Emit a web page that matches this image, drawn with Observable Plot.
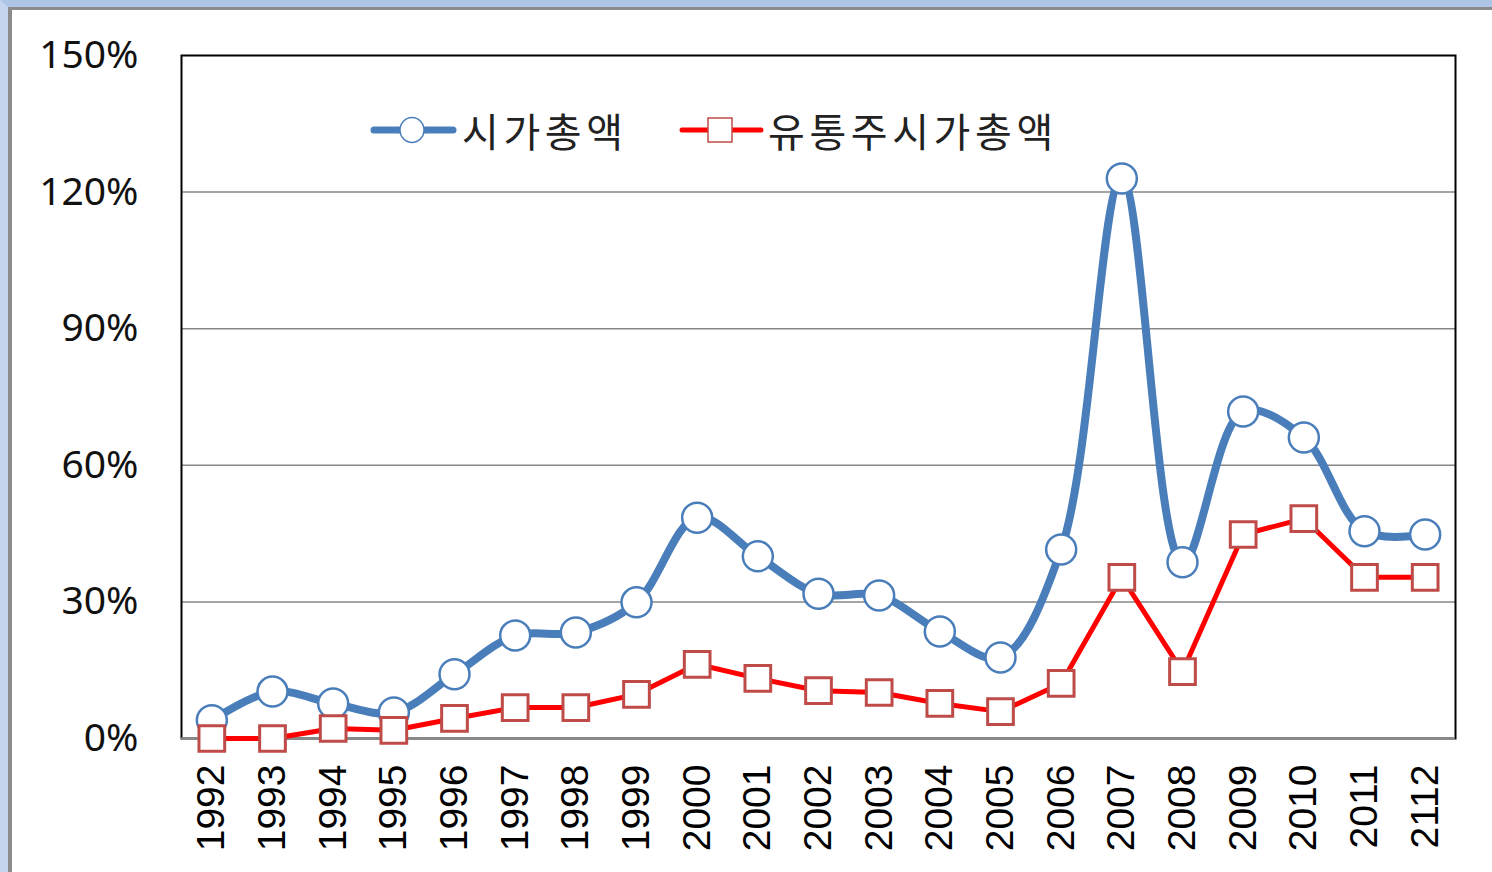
<!DOCTYPE html>
<html>
<head>
<meta charset="utf-8">
<script src="https://cdn.jsdelivr.net/npm/d3@7"></script>
<script src="https://cdn.jsdelivr.net/npm/@observablehq/plot@0.6"></script>
<style>
  html, body { margin: 0; padding: 0; }
  #outer { position: absolute; left: 0; top: 0; width: 1484px; height: 865px;
           border-top: 7px solid #afc5e8; border-left: 8px solid #c6d5ee; background: #afc5e8; }
  #inner { position: absolute; left: 0; top: 0; right: 0; bottom: 0;
           border-top: 3px solid #8c8c8c; border-left: 4px solid #8c8c8c; background: #fff; }
  #chart { position: absolute; left: 0; top: 0; }
  .leg { position: absolute; font-family: "Noto Sans CJK KR", sans-serif; font-size: 40px; letter-spacing: 4.6px; color: #222; line-height: 1; white-space: nowrap; }
  .sw { position: absolute; }
</style>
</head>
<body>
<div id="outer"><div id="inner"></div></div>
<div id="chart"></div>
<script>
const years = ["1992","1993","1994","1995","1996","1997","1998","1999","2000","2001","2002","2003","2004","2005","2006","2007","2008","2009","2010","2011","2112"];
const marketCap = [4.0, 10.3, 7.7, 5.7, 14.1, 22.6, 23.3, 29.9, 48.5, 40.0, 31.8, 31.4, 23.5, 17.8, 41.5, 123.0, 38.7, 71.8, 66.1, 45.5, 44.8];
const floatCap = [0.0, 0.0, 2.2, 1.8, 4.4, 6.8, 6.8, 9.7, 16.3, 13.2, 10.5, 10.1, 7.7, 5.9, 12.1, 35.4, 14.7, 44.8, 48.3, 35.4, 35.4];
const yTicks = [0, 30, 60, 90, 120, 150];
const seriesNames = ["시가총액", "유통주시가총액"];

const blue = years.map((y, i) => ({year: y, value: marketCap[i]}));
const red = years.map((y, i) => ({year: y, value: floatCap[i]}));

const plot = Plot.plot({
  width: 1492,
  height: 872,
  marginLeft: 181,
  marginRight: 37,
  marginTop: 55,
  marginBottom: 134,
  style: {background: "transparent", overflow: "visible"},
  x: {type: "point", domain: years, padding: 0.5, round: false},
  y: {domain: [0, 150]},
  marks: [
    Plot.gridY(yTicks.filter(d => d > 0 && d < 150), {stroke: "#868686", strokeOpacity: 1, strokeWidth: 1.5}),
    Plot.frame({stroke: "#000", strokeWidth: 2}),
    Plot.ruleY([0], {stroke: "#8a8a8a", strokeWidth: 2.5}),
    Plot.axisY({ticks: yTicks, tickFormat: d => d + "%", tickSize: 0, tickPadding: 43,
      fontSize: 39, fontFamily: "Noto Sans", fill: "#111", label: null}),
    Plot.axisX({tickSize: 0, tickRotate: -90, tickPadding: 26, fontSize: 39,
      fontFamily: "Liberation Sans", fill: "#000", label: null}),
    Plot.line(blue, {x: "year", y: "value", curve: "catmull-rom", stroke: "#4a7ebb", strokeWidth: 8}),
    Plot.dot(blue, {x: "year", y: "value", r: 15, fill: "#fff", stroke: "#4a7ebb", strokeWidth: 2.5}),
    Plot.line(red, {x: "year", y: "value", stroke: "#ff0000", strokeWidth: 5}),
    Plot.dot(red, {x: "year", y: "value", symbol: "square", r: 14.5, fill: "#fff", stroke: "#be4b48", strokeWidth: 3})
  ]
});
document.getElementById("chart").appendChild(plot);

// Legend (HTML overlay)
const chart = document.getElementById("chart");
function addSwatch(left, color, lw, marker) {
  const ns = "http://www.w3.org/2000/svg";
  const s = document.createElementNS(ns, "svg");
  s.setAttribute("class", "sw");
  s.setAttribute("width", 90); s.setAttribute("height", 40);
  s.style.left = left + "px"; s.style.top = "110px";
  const l = document.createElementNS(ns, "line");
  l.setAttribute("x1", 4); l.setAttribute("x2", 83); l.setAttribute("y1", 20); l.setAttribute("y2", 20);
  l.setAttribute("stroke", color); l.setAttribute("stroke-width", lw); l.setAttribute("stroke-linecap", "round");
  s.appendChild(l);
  let m;
  if (marker === "circle") {
    m = document.createElementNS(ns, "ellipse");
    m.setAttribute("cx", 42); m.setAttribute("cy", 20); m.setAttribute("rx", 12); m.setAttribute("ry", 12.5);
    m.setAttribute("fill", "#fff"); m.setAttribute("stroke", "#4a7ebb"); m.setAttribute("stroke-width", 1.5);
  } else {
    m = document.createElementNS(ns, "rect");
    m.setAttribute("x", 30); m.setAttribute("y", 8); m.setAttribute("width", 24); m.setAttribute("height", 24);
    m.setAttribute("fill", "#fff"); m.setAttribute("stroke", "#be4b48"); m.setAttribute("stroke-width", 1.5);
  }
  s.appendChild(m);
  chart.appendChild(s);
}
function addText(left, text) {
  const d = document.createElement("div");
  d.className = "leg";
  d.style.left = left + "px"; d.style.top = "110px";
  d.textContent = text;
  chart.appendChild(d);
}
addSwatch(370, "#4a7ebb", 7, "circle");
addText(462, seriesNames[0]);
addSwatch(678, "#ff0000", 5, "square");
addText(768, seriesNames[1]);
</script>
</body>
</html>
